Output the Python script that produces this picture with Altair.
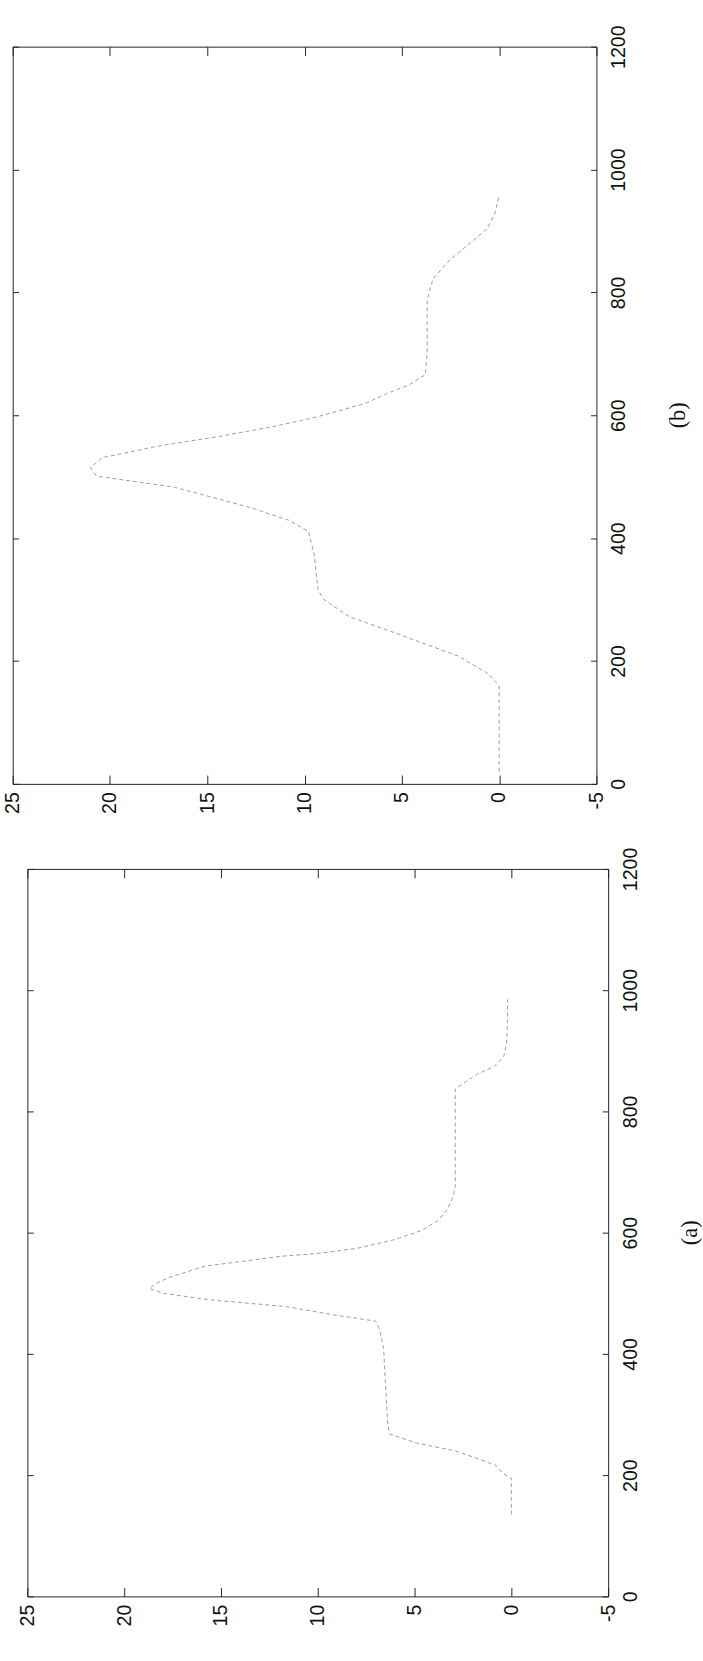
import altair as alt
import pandas as pd

# ---- data (index along the long axis, value along the short axis)
a_idx = [135, 160, 195, 202, 216, 228, 240, 253, 268, 290, 350, 409, 440, 454, 465, 478, 489, 500, 508, 517,
         526, 545, 553, 561, 566, 574, 588, 604, 620, 638, 660, 676, 724, 780, 837, 861, 874, 890, 911, 950, 985]
a_val = [0.0, 0.0, 0.0, 0.4, 0.8, 1.8, 2.9, 4.9, 6.3, 6.4, 6.5, 6.6, 6.8, 7.0, 9.3, 11.6, 15.5, 18.0, 18.7, 18.3,
         17.7, 15.8, 13.8, 11.9, 9.9, 8.0, 6.1, 4.6, 3.8, 3.3, 3.0, 2.9, 2.9, 2.9, 2.9, 1.8, 0.9, 0.4, 0.25, 0.2, 0.2]

b_idx = [20, 80, 146, 160, 180, 208, 230, 251, 272, 300, 315, 340, 373, 411, 429, 450, 483, 501, 515, 531,
         550, 565, 581, 597, 619, 635, 650, 666, 700, 750, 788, 822, 851, 880, 904, 931, 958]
b_val = [0.0, 0.0, 0.0, 0.0, 0.6, 2.1, 4.0, 5.8, 7.7, 9.0, 9.3, 9.4, 9.5, 9.8, 10.8, 12.8, 16.7, 20.7, 21.0, 20.4,
         17.5, 14.5, 11.7, 9.4, 6.9, 5.8, 4.6, 3.8, 3.7, 3.7, 3.7, 3.4, 2.6, 1.5, 0.6, 0.2, 0.0]

value_ticks = [-5, 0, 5, 10, 15, 20, 25]
index_ticks = [0, 200, 400, 600, 800, 1000, 1200]
panel_labels = {"a": "(a)", "b": "(b)"}

SANS = "Liberation Sans"
SERIF = "Liberation Serif"
INK = "#222222"


def panel(idx, val, w, h, label):
    df = pd.DataFrame({"i": idx, "v": val})
    xs = alt.Scale(domain=[-5, 25], reverse=True, nice=False, zero=False)
    ys = alt.Scale(domain=[0, 1200], nice=False, zero=False)
    line = alt.Chart(df).mark_line(
        color="#9c9c9c", strokeWidth=1, strokeDash=[4, 3]
    ).encode(
        x=alt.X("v:Q", scale=xs, axis=alt.Axis(
            values=value_ticks, orient="bottom", title=None,
            labelAngle=270, labelAlign="right", labelBaseline="middle",
            labelPadding=8, labelFlush=False, labelOverlap=False,
            labelFont=SANS, labelFontSize=20, labelColor="#111111",
            labelExpr="datum.value + ''",
            ticks=False, domain=False,
            grid=True, gridColor=INK, gridOpacity=1, gridWidth=1,
            gridDash=[9, h - 18])),
        y=alt.Y("i:Q", scale=ys, axis=alt.Axis(
            values=index_ticks, orient="right", title=None,
            labelAngle=270, labelAlign="center", labelBaseline="top",
            labelPadding=13, labelFlush=False, labelOverlap=False,
            labelFont=SANS, labelFontSize=20, labelColor="#111111",
            labelExpr="datum.value + ''",
            ticks=False, domain=False,
            grid=True, gridColor=INK, gridOpacity=1, gridWidth=1,
            gridDash=[6, w - 12])),
        order="i:Q",
    )
    return line.properties(
        width=w, height=h,
        title=alt.TitleParams(
            label, orient="right", angle=270, anchor="middle",
            font=SERIF, fontSize=23, fontWeight="normal", color="#111111",
            baseline="top", offset=17),
    )


pb = panel(b_idx, b_val, 597, 754, panel_labels["b"])
pa = panel(a_idx, a_val, 594, 744, panel_labels["a"])

# tiny invisible spacer so that panel (a) sits a few pixels further right, as in the reference
spacer = alt.Chart(pd.DataFrame({"s": [0]})).mark_point(opacity=0).properties(
    width=1, height=1, view=alt.ViewBackground(stroke="transparent")
)
row_a = alt.hconcat(spacer, pa, spacing=0)

chart = alt.vconcat(pb, row_a, spacing=33).properties(
    padding={"left": 2, "top": 6, "right": 0, "bottom": 0},
    background="white",
).configure_view(stroke=INK, strokeWidth=1)

chart.save("out.html", embed_options={"renderer": "svg", "actions": False})
